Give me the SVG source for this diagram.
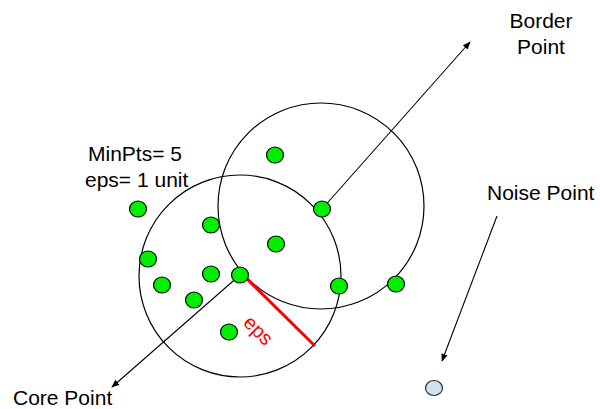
<svg xmlns="http://www.w3.org/2000/svg" width="600" height="409" viewBox="0 0 600 409">
<defs>
<marker id="ah" viewBox="0 0 10 10" refX="9" refY="5" markerWidth="8" markerHeight="8" markerUnits="userSpaceOnUse" orient="auto">
<path d="M0,1 L10,5 L0,9 z" fill="#000"/>
</marker>
</defs>
<style>
.lbl{font-family:"Liberation Sans",Arial,sans-serif;font-size:21px;fill:#000}
.ring{fill:none;stroke:#000;stroke-width:1.2}
.pt{fill:#00ee00;stroke:#000;stroke-width:1.2}
.noise{fill:#cfe2f3;stroke:#333;stroke-width:1.2}
.conn{stroke:#000;stroke-width:1.1;fill:none;marker-end:url(#ah)}
</style>
<rect width="600" height="409" fill="#fff"/>
<g id="circles">
<circle class="ring" cx="240" cy="276" r="101"/>
<circle class="ring" cx="321" cy="206" r="103"/>
</g>
<g id="connectors">
<line class="conn" x1="240" y1="275" x2="112" y2="387"/>
<line class="conn" x1="322" y1="209" x2="470" y2="42"/>
<line class="conn" x1="497" y1="216" x2="442" y2="361"/>
</g>
<g id="eps-radius">
<line x1="247" y1="279" x2="315" y2="346" stroke="#ff0000" stroke-width="3"/>
<text x="258" y="337" transform="rotate(45 258 331)" text-anchor="middle" style="font-family:'Liberation Sans',Arial,sans-serif;font-size:20px;fill:#ff0000">eps</text>
</g>
<g id="points">
<ellipse class="pt" cx="275" cy="155" rx="8.5" ry="8"/>
<ellipse class="pt" cx="138" cy="209" rx="8.5" ry="8"/>
<ellipse class="pt" cx="211" cy="225" rx="8.5" ry="8"/>
<ellipse class="pt" cx="276" cy="244" rx="8.5" ry="8"/>
<ellipse class="pt" cx="148" cy="259" rx="8.5" ry="8"/>
<ellipse class="pt" cx="211" cy="274" rx="8.5" ry="8"/>
<ellipse class="pt" cx="162" cy="285" rx="8.5" ry="8"/>
<ellipse class="pt" cx="194" cy="300" rx="8.5" ry="8"/>
<ellipse class="pt" cx="229" cy="332" rx="8.5" ry="8"/>
<ellipse class="pt" cx="339" cy="286" rx="8.5" ry="8"/>
<ellipse class="pt" cx="396" cy="284" rx="8.5" ry="8"/>
</g>
<g id="core-point">
<ellipse class="pt" cx="240" cy="275" rx="8.5" ry="8"/>
</g>
<g id="border-point">
<ellipse class="pt" cx="322" cy="209" rx="8.5" ry="8"/>
</g>
<g id="noise-point">
<ellipse class="noise" cx="434" cy="388" rx="8.5" ry="7.5"/>
</g>
<g id="labels">
<text class="lbl" x="88" y="161">MinPts= 5</text>
<text class="lbl" x="85" y="187">eps= 1 unit</text>
<text class="lbl" x="541" y="28" text-anchor="middle">Border</text>
<text class="lbl" x="541" y="54" text-anchor="middle">Point</text>
<text class="lbl" x="487" y="200">Noise Point</text>
<text class="lbl" x="13" y="405">Core Point</text>
</g>
</svg>
